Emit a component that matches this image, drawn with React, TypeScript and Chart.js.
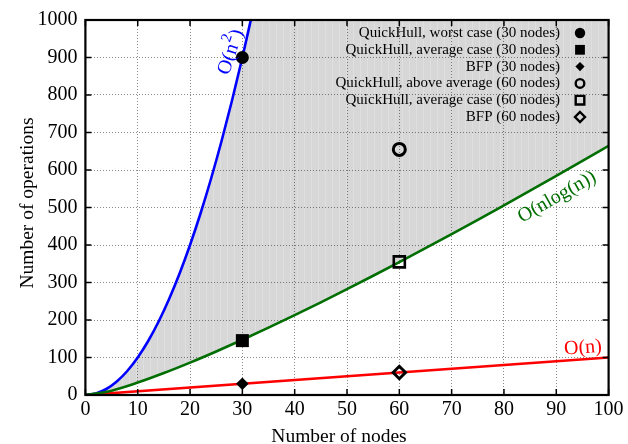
import React, { useEffect, useRef } from "react";
import { Chart, registerables } from "chart.js";

Chart.register(...registerables);

// ---- data ----
const xTickValues = [0, 10, 20, 30, 40, 50, 60, 70, 80, 90, 100];
const yTickValues = [0, 100, 200, 300, 400, 500, 600, 700, 800, 900, 1000];

// O(n^2)
const quadN = [0, 2, 4, 6, 8, 10, 12, 14, 16, 18, 20, 22, 24, 26, 28, 30, 32];
const quadOps = [0, 4, 16, 36, 64, 100, 144, 196, 256, 324, 400, 484, 576, 676, 784, 900, 1024];

// O(n log n)
const nlognN = [0, 5, 10, 15, 20, 25, 30, 35, 40, 45, 50, 55, 60, 65, 70, 75, 80, 85, 90, 95, 100];
const nlognOps = [0, 11.6, 33.2, 58.6, 86.4, 116.1, 147.2, 179.5, 212.9, 247.1, 282.2, 318.0, 354.4, 391.5, 429.1, 467.1, 505.8, 544.8, 584.3, 624.1, 664.4];

// O(n)
const linN = [0, 100];
const linOps = [0, 100];

// upper edge of the shaded region (O(n^2) capped at the top of the plot)
const shadeN = [0, 2, 4, 6, 8, 10, 12, 14, 16, 18, 20, 22, 24, 26, 28, 30, 31.62, 100];
const shadeOps = [0, 4, 16, 36, 64, 100, 144, 196, 256, 324, 400, 484, 576, 676, 784, 900, 1000, 1000];

// measured points
const pointLabels = [
  "QuickHull, worst case (30 nodes)",
  "QuickHull, average case (30 nodes)",
  "BFP (30 nodes)",
  "QuickHull, above average (60 nodes)",
  "QuickHull, average case (60 nodes)",
  "BFP (60 nodes)",
];
const pointN = [30, 30, 30, 60, 60, 60];
const pointOps = [900, 145, 30, 655, 355, 60];

const curveLabels = ["O(n", "2", ")", "O(nlog(n))", "O(n)"];
const xTitle = "Number of nodes";
const yTitle = "Number of operations";

const FONT = "'Liberation Serif', 'Times New Roman', Times, serif";

type MarkerSpec = { style: string; filled: boolean; radius: number; border: number; legendSize: number; legendBorder: number };
const markerSpecs: MarkerSpec[] = [
  { style: "circle", filled: true, radius: 6.5, border: 0, legendSize: 5.2, legendBorder: 0 },
  { style: "rect", filled: true, radius: 9.2, border: 0, legendSize: 4.9, legendBorder: 0 },
  { style: "rectRot", filled: true, radius: 6.3, border: 0, legendSize: 4.6, legendBorder: 0 },
  { style: "circle", filled: false, radius: 6.0, border: 3, legendSize: 4.3, legendBorder: 2.4 },
  { style: "rect", filled: false, radius: 7.8, border: 2.6, legendSize: 4.3, legendBorder: 2.4 },
  { style: "rectRot", filled: false, radius: 6.2, border: 3, legendSize: 5.0, legendBorder: 2.4 },
];

function drawMarker(ctx: CanvasRenderingContext2D, m: MarkerSpec, x: number, y: number) {
  const s = m.legendSize;
  ctx.save();
  ctx.beginPath();
  if (m.style === "circle") ctx.arc(x, y, s, 0, Math.PI * 2);
  else if (m.style === "rect") ctx.rect(x - s, y - s, 2 * s, 2 * s);
  else {
    ctx.moveTo(x, y - s);
    ctx.lineTo(x + s, y);
    ctx.lineTo(x, y + s);
    ctx.lineTo(x - s, y);
    ctx.closePath();
  }
  if (m.filled) {
    ctx.fillStyle = "#000";
    ctx.fill();
  } else {
    ctx.lineWidth = m.legendBorder;
    ctx.strokeStyle = "#000";
    ctx.lineJoin = "miter";
    ctx.stroke();
  }
  ctx.restore();
}

function makePattern(): CanvasPattern | string {
  const c = document.createElement("canvas");
  c.width = 7;
  c.height = 1;
  const g = c.getContext("2d");
  if (!g) return "rgba(0,0,0,0.15)";
  g.fillStyle = "rgba(0,0,0,0.155)";
  g.fillRect(0, 0, 7, 1);
  g.clearRect(3, 0, 1, 1);
  g.fillStyle = "rgba(0,0,0,0.125)";
  g.fillRect(3, 0, 1, 1);
  const p = g.createPattern(c, "repeat");
  return p || "rgba(0,0,0,0.15)";
}

const decorPlugin = {
  id: "decor",
  afterDraw(chart: any) {
    const ctx: CanvasRenderingContext2D = chart.ctx;
    const { left, right, top, bottom } = chart.chartArea;
    const xs = chart.scales.x;
    const ys = chart.scales.y;
    ctx.save();

    // inward tick marks on all sides
    ctx.strokeStyle = "#000";
    ctx.lineWidth = 1.5;
    const tl = 6;
    ctx.beginPath();
    xTickValues.forEach((v) => {
      const px = xs.getPixelForValue(v);
      ctx.moveTo(px, bottom);
      ctx.lineTo(px, bottom - tl);
      ctx.moveTo(px, top);
      ctx.lineTo(px, top + tl);
    });
    yTickValues.forEach((v) => {
      const py = ys.getPixelForValue(v);
      ctx.moveTo(left, py);
      ctx.lineTo(left + tl, py);
      ctx.moveTo(right, py);
      ctx.lineTo(right - tl, py);
    });
    ctx.stroke();

    // frame
    ctx.lineWidth = 2.2;
    ctx.strokeRect(left, top, right - left, bottom - top);

    // legend (text right-aligned, marker on the right)
    ctx.font = `15px ${FONT}`;
    ctx.fillStyle = "#000";
    ctx.textAlign = "right";
    ctx.textBaseline = "middle";
    pointLabels.forEach((lab, i) => {
      const y = 33 + i * 16.8;
      ctx.fillText(lab, 560, y);
      drawMarker(ctx, markerSpecs[i], 580, y);
    });

    // curve labels
    const lf = `20px ${FONT}`;
    // O(n^2)
    ctx.save();
    ctx.translate(229, 52);
    ctx.rotate((-72 * Math.PI) / 180);
    ctx.fillStyle = "#0000ff";
    ctx.textAlign = "left";
    ctx.textBaseline = "alphabetic";
    ctx.font = lf;
    const w1 = ctx.measureText(curveLabels[0]).width;
    ctx.font = `15px ${FONT}`;
    const w2 = ctx.measureText(curveLabels[1]).width;
    ctx.font = lf;
    const w3 = ctx.measureText(curveLabels[2]).width;
    const x0 = -(w1 + w2 + w3) / 2;
    ctx.fillText(curveLabels[0], x0, 7);
    ctx.font = `15px ${FONT}`;
    ctx.fillText(curveLabels[1], x0 + w1 + 0.5, -2);
    ctx.font = lf;
    ctx.fillText(curveLabels[2], x0 + w1 + w2 + 1, 7);
    ctx.restore();

    // O(nlog(n))
    ctx.save();
    ctx.translate(557, 197);
    ctx.rotate((-29.6 * Math.PI) / 180);
    ctx.fillStyle = "#006e00";
    ctx.font = lf;
    ctx.textAlign = "center";
    ctx.textBaseline = "middle";
    ctx.fillText(curveLabels[3], 0, 0);
    ctx.restore();

    // O(n)
    ctx.save();
    ctx.translate(583, 348);
    ctx.rotate((-4.1 * Math.PI) / 180);
    ctx.fillStyle = "#ff0000";
    ctx.font = lf;
    ctx.textAlign = "center";
    ctx.textBaseline = "middle";
    ctx.fillText(curveLabels[4], 0, 0);
    ctx.restore();

    // axis titles
    ctx.fillStyle = "#000";
    ctx.font = `19.5px ${FONT}`;
    ctx.textAlign = "center";
    ctx.textBaseline = "alphabetic";
    ctx.fillText(xTitle, 339, 442);
    ctx.save();
    ctx.translate(33, 203);
    ctx.rotate(-Math.PI / 2);
    ctx.fillText(yTitle, 0, 0);
    ctx.restore();

    ctx.restore();
  },
};

export default function App() {
  const canvasRef = useRef<HTMLCanvasElement | null>(null);

  useEffect(() => {
    const canvas = canvasRef.current;
    if (!canvas) return;
    const pattern = makePattern();

    const toXY = (xsArr: number[], ysArr: number[]) => xsArr.map((x, i) => ({ x, y: ysArr[i] }));

    const markerDatasets = pointLabels.map((lab, i) => {
      const m = markerSpecs[i];
      return {
        type: "scatter" as const,
        label: lab,
        data: [{ x: pointN[i], y: pointOps[i] }],
        pointStyle: m.style,
        pointRadius: m.radius,
        pointBorderWidth: m.filled ? 0 : m.border,
        pointBackgroundColor: m.filled ? "#000" : "rgba(0,0,0,0)",
        pointBorderColor: "#000",
        showLine: false,
        order: 0,
        clip: false as any,
      };
    });

    const chart = new Chart(canvas, {
      type: "line",
      data: {
        datasets: [
          {
            label: "shade",
            data: toXY(shadeN, shadeOps),
            borderColor: "rgba(0,0,0,0)",
            borderWidth: 0,
            pointRadius: 0,
            backgroundColor: pattern as any,
            fill: 1,
            cubicInterpolationMode: "monotone",
            order: 3,
          },
          {
            label: "O(nlog(n))",
            data: toXY(nlognN, nlognOps),
            borderColor: "#006e00",
            borderWidth: 2.6,
            pointRadius: 0,
            fill: false,
            cubicInterpolationMode: "monotone",
            order: 1,
          },
          {
            label: "O(n^2)",
            data: toXY(quadN, quadOps),
            borderColor: "#0000ff",
            borderWidth: 2.6,
            pointRadius: 0,
            fill: false,
            cubicInterpolationMode: "monotone",
            order: 1,
          },
          {
            label: "O(n)",
            data: toXY(linN, linOps),
            borderColor: "#ff0000",
            borderWidth: 2.6,
            pointRadius: 0,
            fill: false,
            order: 1,
          },
          ...markerDatasets,
        ] as any,
      },
      options: {
        responsive: false,
        animation: false,
        layout: { padding: { left: 0, top: 20, right: 19.4, bottom: 0 } },
        plugins: {
          legend: { display: false },
          tooltip: { enabled: false },
          filler: { propagate: false },
        },
        scales: {
          x: {
            type: "linear",
            min: 0,
            max: 100,
            afterBuildTicks: (scale: any) => {
              scale.ticks = xTickValues.map((v) => ({ value: v }));
            },
            afterFit: (scale: any) => {
              scale.height = 49;
            },
            grid: { color: "#8a8a8a", lineWidth: 1, drawTicks: false },
            border: { display: false, dash: [1, 2] },
            ticks: {
              color: "#000",
              padding: 3,
              maxRotation: 0,
              autoSkip: false,
              font: { family: FONT, size: 20 },
              callback: (v: any) => String(v),
            },
          },
          y: {
            type: "linear",
            min: 0,
            max: 1000,
            afterBuildTicks: (scale: any) => {
              scale.ticks = yTickValues.map((v) => ({ value: v }));
            },
            afterFit: (scale: any) => {
              scale.width = 85.4;
            },
            grid: { color: "#8a8a8a", lineWidth: 1, drawTicks: false },
            border: { display: false, dash: [1, 2] },
            ticks: {
              color: "#000",
              padding: 8,
              autoSkip: false,
              font: { family: FONT, size: 20 },
              callback: (v: any) => String(v),
            },
          },
        },
      },
      plugins: [decorPlugin],
    });

    return () => {
      chart.destroy();
    };
  }, []);

  return (
    <div style={{ position: "fixed", left: 0, top: 0, width: 628, height: 444, background: "#fff" }}>
      <canvas ref={canvasRef} width={628} height={444} style={{ display: "block", width: 628, height: 444 }} />
    </div>
  );
}
